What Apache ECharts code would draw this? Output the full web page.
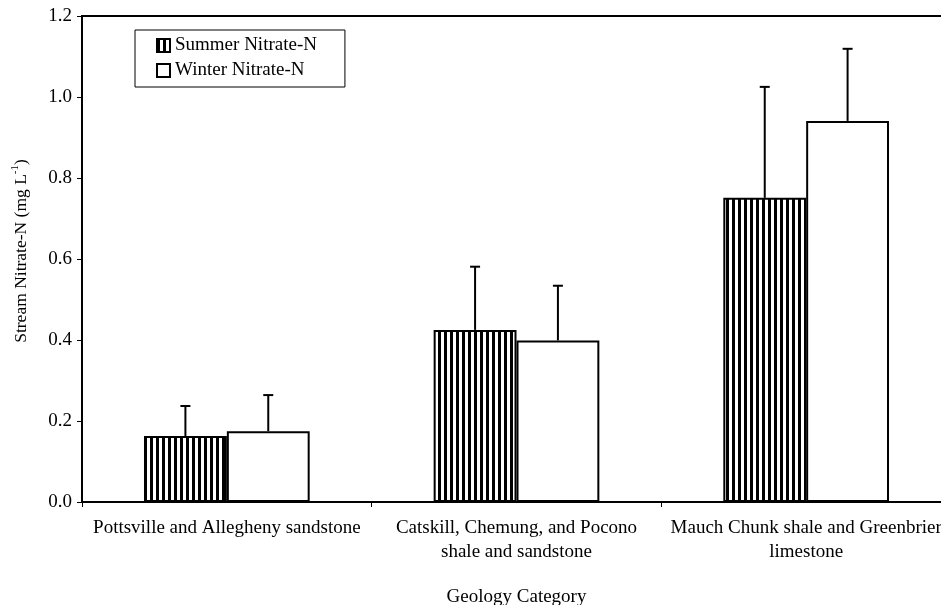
<!DOCTYPE html>
<html>
<head>
<meta charset="utf-8">
<script src="https://cdn.jsdelivr.net/npm/echarts@6/dist/echarts.min.js"></script>
<style>html,body{margin:0;padding:0;background:#fff}#c{width:941px;height:605px}</style>
</head>
<body>
<div id="c"></div>
<script>
const categories = ['Pottsville and Allegheny sandstone', 'Catskill, Chemung, and Pocono\nshale and sandstone', 'Mauch Chunk shale and Greenbrier\nlimestone'];
const summerValues = [0.163, 0.425, 0.751];
const summerErrors = [0.074, 0.156, 0.274];
const winterValues = [0.175, 0.399, 0.941];
const winterErrors = [0.089, 0.135, 0.178];
const yTicks = [0, 0.2, 0.4, 0.6, 0.8, 1.0, 1.2];

const FONT = 'Liberation Serif';
const GAP = 0.428;

function stripes() {
  const c = document.createElement('canvas');
  c.width = 6; c.height = 6;
  const g = c.getContext('2d');
  g.fillStyle = '#fff'; g.fillRect(0, 0, 6, 6);
  g.fillStyle = '#000'; g.fillRect(0, 0, 3, 6);
  return c;
}
const stripeFill = { image: stripes(), repeat: 'repeat' };

function errSeries(vals, errs, side) {
  return {
    type: 'custom',
    z: 5,
    silent: true,
    data: vals.map((v, i) => [i, v, v + errs[i]]),
    encode: { x: 0, y: [1, 2] },
    renderItem: function (params, api) {
      const cat = api.value(0);
      const p0 = api.coord([cat, api.value(1)]);
      const p1 = api.coord([cat, api.value(2)]);
      const band = api.size([1, 0])[0];
      const bw = band * (1 - GAP) / 2;
      const x = p0[0] + side * bw / 2;
      const st = { stroke: '#000', lineWidth: 2 };
      return {
        type: 'group',
        children: [
          { type: 'line', shape: { x1: x, y1: p0[1], x2: x, y2: p1[1] }, style: st },
          { type: 'line', shape: { x1: x - 5, y1: p1[1], x2: x + 5, y2: p1[1] }, style: st }
        ]
      };
    }
  };
}

const chart = echarts.init(document.getElementById('c'));
chart.setOption({
  animation: false,
  backgroundColor: '#fff',
  textStyle: { fontFamily: FONT, color: '#000' },
  grid: {
    left: 82, right: -10, top: 16, bottom: 103,
    show: true, borderColor: '#000', borderWidth: 2,
    outerBoundsMode: 'none', containLabel: false
  },
  legend: {
    left: 135, top: 30,
    orient: 'vertical',
    data: ['Summer Nitrate-N', 'Winter Nitrate-N'],
    borderColor: '#000', borderWidth: 1, borderRadius: 0,
    padding: [6, 28, 7, 21],
    itemGap: 6,
    itemWidth: 13, itemHeight: 13,
    icon: 'rect',
    textStyle: { fontFamily: FONT, fontSize: 19, color: '#000' }
  },
  xAxis: {
    type: 'category',
    data: categories,
    name: 'Geology Category',
    nameLocation: 'middle',
    nameGap: 86,
    nameTextStyle: { fontFamily: FONT, fontSize: 19, color: '#000' },
    axisLine: { lineStyle: { color: '#000', width: 1.5 } },
    axisTick: { show: true, length: 5, lineStyle: { color: '#000', width: 1 } },
    axisLabel: { fontFamily: FONT, fontSize: 19, color: '#000', margin: 14, lineHeight: 24, interval: 0 },
    splitLine: { show: false }
  },
  yAxis: {
    type: 'value',
    min: 0, max: 1.2, interval: 0.2,
    name: '{a|Stream Nitrate-N (mg L}{sup|-1}{a|)}',
    nameLocation: 'middle',
    nameRotate: 90,
    nameGap: 50,
    nameTextStyle: {
      padding: [0, 0, 0, 16],
      rich: {
        a: { fontFamily: FONT, fontSize: 17.5, color: '#000', lineHeight: 22 },
        sup: { fontFamily: FONT, fontSize: 11, color: '#000', lineHeight: 12, verticalAlign: 'top' }
      }
    },
    axisLine: { show: true, lineStyle: { color: '#000', width: 2 } },
    axisTick: { show: true, length: 5, lineStyle: { color: '#000', width: 1 } },
    axisLabel: {
      fontFamily: FONT, fontSize: 19, color: '#000', margin: 10,
      formatter: v => yTicks.indexOf(Math.round(v * 10) / 10) >= 0 ? v.toFixed(1) : ''
    },
    splitLine: { show: false }
  },
  series: [
    {
      name: 'Summer Nitrate-N', type: 'bar',
      data: summerValues,
      barGap: '0%', barCategoryGap: (GAP * 100) + '%',
      itemStyle: { color: stripeFill, borderColor: '#000', borderWidth: 2 }
    },
    {
      name: 'Winter Nitrate-N', type: 'bar',
      data: winterValues,
      barGap: '0%', barCategoryGap: (GAP * 100) + '%',
      itemStyle: { color: '#fff', borderColor: '#000', borderWidth: 2 }
    },
    errSeries(summerValues, summerErrors, -1),
    errSeries(winterValues, winterErrors, 1)
  ]
});
</script>
</body>
</html>
